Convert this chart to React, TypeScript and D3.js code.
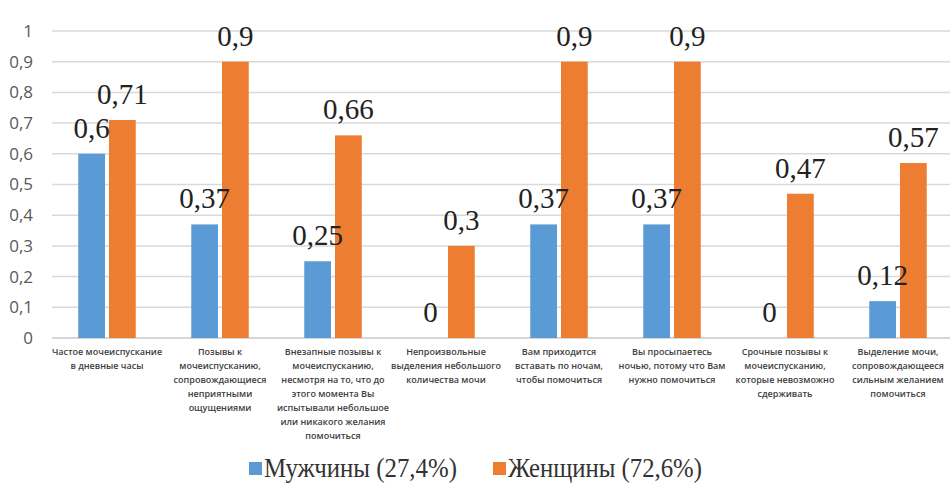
import React from "react";
import * as d3 from "d3";

const categories: string[][] = [
  ["Частое мочеиспускание", "в дневные часы"],
  ["Позывы к", "мочеиспусканию,", "сопровождающиеся", "неприятными", "ощущениями"],
  ["Внезапные позывы к", "мочеиспусканию,", "несмотря на то, что до", "этого момента Вы", "испытывали небольшое", "или никакого желания", "помочиться"],
  ["Непроизвольные", "выделения небольшого", "количества мочи"],
  ["Вам приходится", "вставать по ночам,", "чтобы помочиться"],
  ["Вы просыпаетесь", "ночью, потому что Вам", "нужно помочиться"],
  ["Срочные позывы к", "мочеиспусканию,", "которые невозможно", "сдерживать"],
  ["Выделение мочи,", "сопровождающееся", "сильным желанием", "помочиться"],
];
const men: number[] = [0.6, 0.37, 0.25, 0, 0.37, 0.37, 0, 0.12];
const women: number[] = [0.71, 0.9, 0.66, 0.3, 0.9, 0.9, 0.47, 0.57];
const yTicks: number[] = [0, 0.1, 0.2, 0.3, 0.4, 0.5, 0.6, 0.7, 0.8, 0.9, 1];
const seriesNames: string[] = ["Мужчины (27,4%)", "Женщины (72,6%)"];
const colors: string[] = ["#5b9bd5", "#ed7d31"];

export default function App() {
  const W = 950, H = 500;
  const x0 = 50.5, x1 = 954.5;
  const y = d3.scaleLinear().domain([0, 1]).range([338, 31]);
  const idx = categories.map((_, i) => String(i));
  const xBand = d3.scaleBand<string>().domain(idx).range([x0, x1]).paddingInner(0).paddingOuter(0);
  const bw = xBand.bandwidth();
  const barW = 25, gap = 7.5;
  const xInner = d3.scaleBand<string>().domain(["0", "1"]).range([bw / 2 - barW - gap / 2, bw / 2 + barW + gap / 2]).paddingInner(gap / (barW + gap / 2) / 2);
  const fmt = (v: number) => String(v).replace(".", ",");
  const series = [men, women];

  return (
    <svg width={W} height={H} style={{ position: "absolute", left: 0, top: 0, background: "#fff" }}>
      <rect x={0} y={0} width={W} height={H} fill="#fff" />
      {yTicks.map((t) => (
        <g key={t}>
          <line x1={52} x2={W} y1={y(t)} y2={y(t)} stroke={t === 0 ? "#c8c8c8" : "#d9d9d9"} strokeWidth={1.5} />
          <text x={33} y={y(t)} dy="0.35em" textAnchor="end" fontFamily="'Open Sans', sans-serif" fontSize={17} fill="#595959">
            {fmt(t)}
          </text>
        </g>
      ))}
      {idx.map((c, i) => (
        <g key={"b" + c} transform={`translate(${xBand(c)},0)`}>
          {series.map((s, k) => {
            const bx = xInner(String(k)) as number;
            const v = s[i];
            return v > 0 ? (
              <rect key={k} x={bx} y={y(v)} width={xInner.bandwidth()} height={y(0) - y(v)} fill={colors[k]} />
            ) : null;
          })}
          <text textAnchor="middle" fontFamily="'Open Sans', sans-serif" fontSize={9} fontWeight={600} fill="#404040">
            {categories[i].map((line, j) => (
              <tspan key={j} x={bw / 2} y={355 + j * 14}>{line}</tspan>
            ))}
          </text>
        </g>
      ))}
      {idx.map((c, i) => (
        <g key={"l" + c} transform={`translate(${xBand(c)},0)`}>
          {series.map((s, k) => {
            const bx = xInner(String(k)) as number;
            const v = s[i];
            return (
              <text key={k} x={bx + xInner.bandwidth() / 2} y={y(v) - 16} textAnchor="middle" fontFamily="'Liberation Serif', 'Times New Roman', serif" fontSize={29} fill="#222">
                {fmt(v)}
              </text>
            );
          })}
        </g>
      ))}
      <g>
        <rect x={249} y={462} width={13} height={13} fill={colors[0]} />
        <text x={264} y={477} textLength={193} lengthAdjust="spacingAndGlyphs" fontFamily="'Liberation Serif', 'Times New Roman', serif" fontSize={28} fill="#333">{seriesNames[0]}</text>
        <rect x={493} y={462} width={13} height={13} fill={colors[1]} />
        <text x={508} y={477} textLength={194} lengthAdjust="spacingAndGlyphs" fontFamily="'Liberation Serif', 'Times New Roman', serif" fontSize={28} fill="#333">{seriesNames[1]}</text>
      </g>
    </svg>
  );
}
